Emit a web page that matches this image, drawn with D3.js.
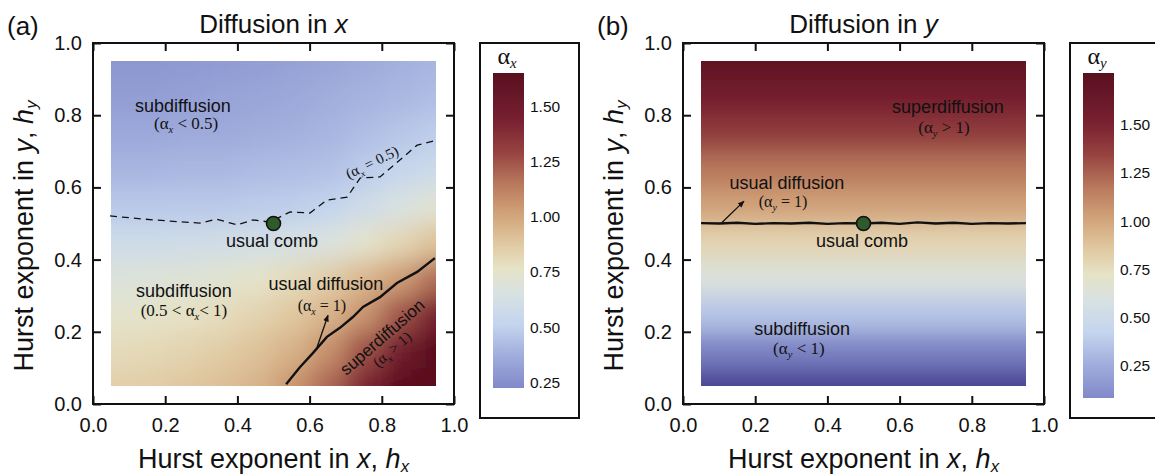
<!DOCTYPE html>
<html>
<head>
<meta charset="utf-8">
<script src="https://cdn.jsdelivr.net/npm/d3@7"></script>
<style>
  body { margin: 0; background: #fff; }
  text { font-family: "Liberation Sans", Arial, sans-serif; fill: #111; }
  .serif { font-family: "Liberation Serif", "Times New Roman", serif; }
</style>
</head>
<body>
<svg id="chart" width="1155" height="476"></svg>
<script>
// Grid of Hurst exponents where the exponents were sampled.
var hxGrid = [0.05, 0.15, 0.25, 0.35, 0.45, 0.55, 0.65, 0.75, 0.85, 0.95];
var hyGrid = [0.05, 0.15, 0.25, 0.35, 0.45, 0.55, 0.65, 0.75, 0.85, 0.95];

// alpha_x, one row per hy (bottom to top), one column per hx.
var alphaX = [
  [0.85, 0.86, 0.88, 0.91, 0.95, 1.05, 1.20, 1.42, 1.64, 1.80],
  [0.80, 0.81, 0.83, 0.86, 0.90, 0.96, 1.07, 1.26, 1.48, 1.68],
  [0.74, 0.75, 0.77, 0.79, 0.83, 0.88, 0.95, 1.06, 1.25, 1.46],
  [0.68, 0.69, 0.70, 0.72, 0.75, 0.80, 0.86, 0.94, 1.03, 1.18],
  [0.58, 0.58, 0.59, 0.60, 0.61, 0.63, 0.67, 0.74, 0.82, 0.90],
  [0.47, 0.47, 0.47, 0.47, 0.48, 0.49, 0.51, 0.58, 0.65, 0.72],
  [0.40, 0.40, 0.41, 0.41, 0.42, 0.43, 0.44, 0.48, 0.53, 0.57],
  [0.35, 0.35, 0.36, 0.36, 0.37, 0.38, 0.40, 0.43, 0.46, 0.49],
  [0.31, 0.31, 0.32, 0.33, 0.34, 0.35, 0.37, 0.39, 0.41, 0.43],
  [0.28, 0.28, 0.29, 0.30, 0.31, 0.32, 0.34, 0.36, 0.38, 0.40]
];

// alpha_y only changes with hy (bottom to top).
var alphaY = [-0.22, 0.05, 0.35, 0.62, 0.80, 1.02, 1.18, 1.38, 1.55, 1.72];

// Contour alpha_x = 0.5 (dashed).
var halfX = [0.047, 0.166, 0.296, 0.343, 0.399, 0.443, 0.490, 0.546, 0.601, 0.648, 0.704, 0.740, 0.795, 0.850, 0.898, 0.953];
var halfY = [0.521, 0.510, 0.501, 0.512, 0.496, 0.510, 0.504, 0.532, 0.529, 0.565, 0.573, 0.626, 0.629, 0.676, 0.717, 0.731];

// Contour alpha_x = 1 (solid).
var oneX = [0.535, 0.573, 0.609, 0.648, 0.684, 0.720, 0.748, 0.795, 0.842, 0.898, 0.947];
var oneY = [0.055, 0.102, 0.141, 0.186, 0.211, 0.241, 0.269, 0.296, 0.335, 0.366, 0.404];

// Contour alpha_y = 1 (solid).
var oneYX = [0.05, 0.10, 0.15, 0.20, 0.25, 0.30, 0.35, 0.40, 0.45, 0.50, 0.55, 0.60, 0.65, 0.70, 0.75, 0.80, 0.85, 0.90, 0.95];
var oneYY = [0.501, 0.500, 0.502, 0.499, 0.501, 0.500, 0.502, 0.499, 0.501, 0.500, 0.502, 0.499, 0.503, 0.500, 0.502, 0.499, 0.501, 0.500, 0.501];

var combPoint = [0.5, 0.5];
var axisTicks = [0, 0.2, 0.4, 0.6, 0.8, 1.0];
var barTicks = [0.25, 0.50, 0.75, 1.00, 1.25, 1.50];
var barRangeX = [0.225, 1.65];
var barRangeY = [0.08, 1.77];

// Thermometer-like colour ramp, on a 0..1 bar position (below 0 darkens to navy).
var rampPos = [-0.2, -0.08, 0, 0.1, 0.2, 0.3, 0.38, 0.46, 0.55, 0.65, 0.75, 0.85, 0.95, 1.0];
var rampCol = ['#433b8c', '#6068b0', '#8189c9', '#a0acdc', '#c3d4ee', '#d8e2e2', '#e6e3c6',
               '#e0c8a0', '#d2a47a', '#b8785c', '#964240', '#782030', '#621526', '#5a0f1e'];
var ramp = d3.scaleLinear().domain(rampPos).range(rampCol).clamp(true);

var svg = d3.select('#chart');
var defs = svg.append('defs');

defs.append('filter').attr('id', 'smooth')
    .attr('x', -0.1).attr('y', -0.1).attr('width', 1.2).attr('height', 1.2)
  .append('feGaussianBlur').attr('stdDeviation', 12);

defs.append('marker').attr('id', 'head')
    .attr('viewBox', '0 0 10 10').attr('refX', 9).attr('refY', 5)
    .attr('markerWidth', 7).attr('markerHeight', 7).attr('orient', 'auto')
    .attr('markerUnits', 'userSpaceOnUse')
  .append('path').attr('d', 'M0,1 L10,5 L0,9 Z').attr('fill', '#111');

var grad = defs.append('linearGradient').attr('id', 'bar')
    .attr('x1', 0).attr('y1', 1).attr('x2', 0).attr('y2', 0);
rampPos.filter(function(p) { return p >= 0; }).forEach(function(p) {
  grad.append('stop').attr('offset', p).attr('stop-color', ramp(p));
});

// Write text made of pieces: {t, sub, it}
function mathText(g, parts, serif) {
  var t = g.append('text').attr('class', serif ? 'serif' : null);
  var shift = 0;
  parts.forEach(function(p) {
    var s = t.append('tspan').text(p.t);
    if (p.it) s.attr('font-style', 'italic');
    if (p.sub) {
      s.attr('font-size', '0.62em').attr('dy', 4 - shift);
      shift = 4;
    } else if (shift) {
      s.attr('dy', -shift);
      shift = 0;
    }
  });
  return t;
}

function panel(opt) {
  var left = opt.left, top = 43, size = 361;
  var x = d3.scaleLinear().domain([0, 1]).range([left, left + size]);
  var y = d3.scaleLinear().domain([0, 1]).range([top + size, top]);
  var tOf = d3.scaleLinear().domain(opt.barRange).range([0, 1]);

  // heat map cells, smoothed and clipped to the sampled square
  var cid = 'clip-' + opt.id;
  defs.append('clipPath').attr('id', cid).append('rect')
    .attr('x', x(0.05)).attr('y', y(0.95))
    .attr('width', x(0.95) - x(0.05)).attr('height', y(0.05) - y(0.95));
  var cells = [];
  opt.grid.forEach(function(row, j) {
    row.forEach(function(v, i) { cells.push({ i: i, j: j, v: v }); });
  });
  var n = hxGrid.length, m = hyGrid.length;
  svg.append('g').attr('clip-path', 'url(#' + cid + ')')
    .append('g').attr('filter', 'url(#smooth)')
    .selectAll('rect').data(cells).enter().append('rect')
      .attr('x', function(d) { return x(hxGrid[d.i] - (d.i === 0 ? 0.2 : 0.05)); })
      .attr('width', function(d) {
        var a = hxGrid[d.i] - (d.i === 0 ? 0.2 : 0.05);
        var b = hxGrid[d.i] + (d.i === n - 1 ? 0.2 : 0.05);
        return x(b) - x(a) + 0.5;
      })
      .attr('y', function(d) { return y(hyGrid[d.j] + (d.j === m - 1 ? 0.2 : 0.05)); })
      .attr('height', function(d) {
        var a = hyGrid[d.j] - (d.j === 0 ? 0.2 : 0.05);
        var b = hyGrid[d.j] + (d.j === m - 1 ? 0.2 : 0.05);
        return y(a) - y(b) + 0.5;
      })
      .attr('fill', function(d) { return ramp(tOf(d.v)); });

  // axes, ticks inside on all four sides
  var fmt = d3.format('.1f');
  var gb = svg.append('g').attr('transform', 'translate(0,' + (top + size) + ')')
    .call(d3.axisBottom(x).tickValues(axisTicks).tickSizeInner(-8).tickSizeOuter(0).tickPadding(14).tickFormat(fmt));
  var gl = svg.append('g').attr('transform', 'translate(' + left + ',0)')
    .call(d3.axisLeft(y).tickValues(axisTicks).tickSizeInner(-8).tickSizeOuter(0).tickPadding(11).tickFormat(fmt));
  var gt = svg.append('g').attr('transform', 'translate(0,' + top + ')')
    .call(d3.axisTop(x).tickValues(axisTicks).tickSizeInner(-8).tickSizeOuter(0).tickFormat(''));
  var gr = svg.append('g').attr('transform', 'translate(' + (left + size) + ',0)')
    .call(d3.axisRight(y).tickValues(axisTicks).tickSizeInner(-8).tickSizeOuter(0).tickFormat(''));
  [gb, gl, gt, gr].forEach(function(g) {
    g.select('.domain').remove();
    g.selectAll('.tick line').attr('stroke', '#111').attr('stroke-width', 2);
    g.selectAll('.tick text').attr('font-size', 20).attr('fill', '#111')
      .style('font-family', '"Liberation Sans", Arial, sans-serif');
  });
  svg.append('rect').attr('x', left).attr('y', top).attr('width', size).attr('height', size)
    .attr('fill', 'none').attr('stroke', '#111').attr('stroke-width', 2);

  // titles
  svg.append('text').attr('x', left - 86).attr('y', 35).attr('font-size', 26).text(opt.tag);
  var tt = mathText(svg, [{ t: 'Diffusion in ' }, { t: opt.dir, it: true }]);
  tt.attr('x', left + size / 2).attr('y', 33).attr('text-anchor', 'middle').attr('font-size', 26);
  var xt = mathText(svg, [{ t: 'Hurst exponent in ' }, { t: 'x', it: true }, { t: ', ' }, { t: 'h', it: true }, { t: 'x', it: true, sub: true }]);
  xt.attr('x', left + size / 2).attr('y', 468).attr('text-anchor', 'middle').attr('font-size', 27);
  var yt = mathText(svg, [{ t: 'Hurst exponent in ' }, { t: 'y', it: true }, { t: ', ' }, { t: 'h', it: true }, { t: 'y', it: true, sub: true }]);
  yt.attr('text-anchor', 'middle').attr('font-size', 27)
    .attr('transform', 'translate(' + (left - 60) + ',' + 236 + ') rotate(-90)');

  // colour bar
  var bx = opt.barLeft, by = d3.scaleLinear().domain(opt.barRange).range([opt.barBottom, 73]);
  svg.append('rect').attr('x', bx - 13).attr('y', top).attr('width', 99).attr('height', 375)
    .attr('fill', 'none').attr('stroke', '#111').attr('stroke-width', 2);
  svg.append('rect').attr('x', bx).attr('y', 73).attr('width', 31).attr('height', opt.barBottom - 73)
    .attr('fill', 'url(#bar)');
  var gc = svg.append('g').attr('transform', 'translate(' + (bx + 31) + ',0)')
    .call(d3.axisRight(by).tickValues(barTicks).tickSize(0).tickPadding(6).tickFormat(d3.format('.2f')));
  gc.select('.domain').remove();
  gc.selectAll('.tick text').attr('font-size', 15.5).attr('fill', '#111')
    .style('font-family', '"Liberation Sans", Arial, sans-serif');
  var bl = mathText(svg, [{ t: 'α' }, { t: opt.dir, it: true, sub: true }], true);
  bl.attr('x', bx + 14).attr('y', 64).attr('text-anchor', 'middle').attr('font-size', 24);

  return { x: x, y: y };
}

function label(s, px, py, parts, serif, size, angle) {
  var t = mathText(svg, parts, serif).attr('text-anchor', 'middle').attr('font-size', size);
  if (angle) {
    t.attr('dy', '0.35em').attr('transform', 'translate(' + s.x(px) + ',' + s.y(py) + ') rotate(' + angle + ')');
  } else {
    t.attr('x', s.x(px)).attr('y', s.y(py));
  }
  return t;
}

function line(s, xs, ys, width, dash) {
  var pts = xs.map(function(v, i) { return [v, ys[i]]; });
  svg.append('path').datum(pts)
    .attr('d', d3.line().x(function(d) { return s.x(d[0]); }).y(function(d) { return s.y(d[1]); }))
    .attr('fill', 'none').attr('stroke', '#111').attr('stroke-width', width)
    .attr('stroke-dasharray', dash || null);
}

function arrow(s, x0, y0, x1, y1) {
  svg.append('line').attr('x1', s.x(x0)).attr('y1', s.y(y0)).attr('x2', s.x(x1)).attr('y2', s.y(y1))
    .attr('stroke', '#111').attr('stroke-width', 1.3).attr('marker-end', 'url(#head)');
}

function comb(s) {
  svg.append('circle').attr('cx', s.x(combPoint[0])).attr('cy', s.y(combPoint[1])).attr('r', 7)
    .attr('fill', '#2f5a2b').attr('stroke', '#111').attr('stroke-width', 1.6);
}

// ---- panel (a)
var a = panel({ id: 'a', tag: '(a)', dir: 'x', left: 93, grid: alphaX, barRange: barRangeX, barLeft: 493, barBottom: 388 });
line(a, halfX, halfY, 1.3, '7,5');
line(a, oneX, oneY, 2.4);
comb(a);
label(a, 0.249, 0.809, [{ t: 'subdiffusion' }], false, 18);
label(a, 0.258, 0.762, [{ t: '(α' }, { t: 'x', it: true, sub: true }, { t: ' < 0.5)' }], true, 17);
label(a, 0.773, 0.670, [{ t: '(α' }, { t: 'x', it: true, sub: true }, { t: ' = 0.5)' }], true, 15, -26);
label(a, 0.496, 0.435, [{ t: 'usual comb' }], false, 18);
label(a, 0.252, 0.296, [{ t: 'subdiffusion' }], false, 18);
label(a, 0.252, 0.243, [{ t: '(0.5 < α' }, { t: 'x', it: true, sub: true }, { t: '< 1)' }], true, 17);
label(a, 0.645, 0.316, [{ t: 'usual diffusion' }], false, 18);
label(a, 0.634, 0.258, [{ t: '(α' }, { t: 'x', it: true, sub: true }, { t: ' = 1)' }], true, 16);
arrow(a, 0.620, 0.155, 0.651, 0.246);
label(a, 0.801, 0.186, [{ t: 'superdiffusion' }], false, 17, -41);
label(a, 0.828, 0.152, [{ t: '(α' }, { t: 'x', it: true, sub: true }, { t: ' > 1)' }], true, 15, -41);

// ---- panel (b)
var gridY = alphaY.map(function(v) { return hxGrid.map(function() { return v; }); });
var b = panel({ id: 'b', tag: '(b)', dir: 'y', left: 683, grid: gridY, barRange: barRangeY, barLeft: 1083, barBottom: 398 });
line(b, oneYX, oneYY, 2.4);
comb(b);
label(b, 0.734, 0.806, [{ t: 'superdiffusion' }], false, 18);
label(b, 0.723, 0.751, [{ t: '(α' }, { t: 'y', it: true, sub: true }, { t: ' > 1)' }], true, 17);
label(b, 0.288, 0.596, [{ t: 'usual diffusion' }], false, 18);
label(b, 0.277, 0.545, [{ t: '(α' }, { t: 'y', it: true, sub: true }, { t: ' = 1)' }], true, 16);
arrow(b, 0.108, 0.503, 0.169, 0.562);
label(b, 0.496, 0.435, [{ t: 'usual comb' }], false, 18);
label(b, 0.330, 0.191, [{ t: 'subdiffusion' }], false, 18);
label(b, 0.321, 0.139, [{ t: '(α' }, { t: 'y', it: true, sub: true }, { t: ' < 1)' }], true, 17);
</script>
</body>
</html>
